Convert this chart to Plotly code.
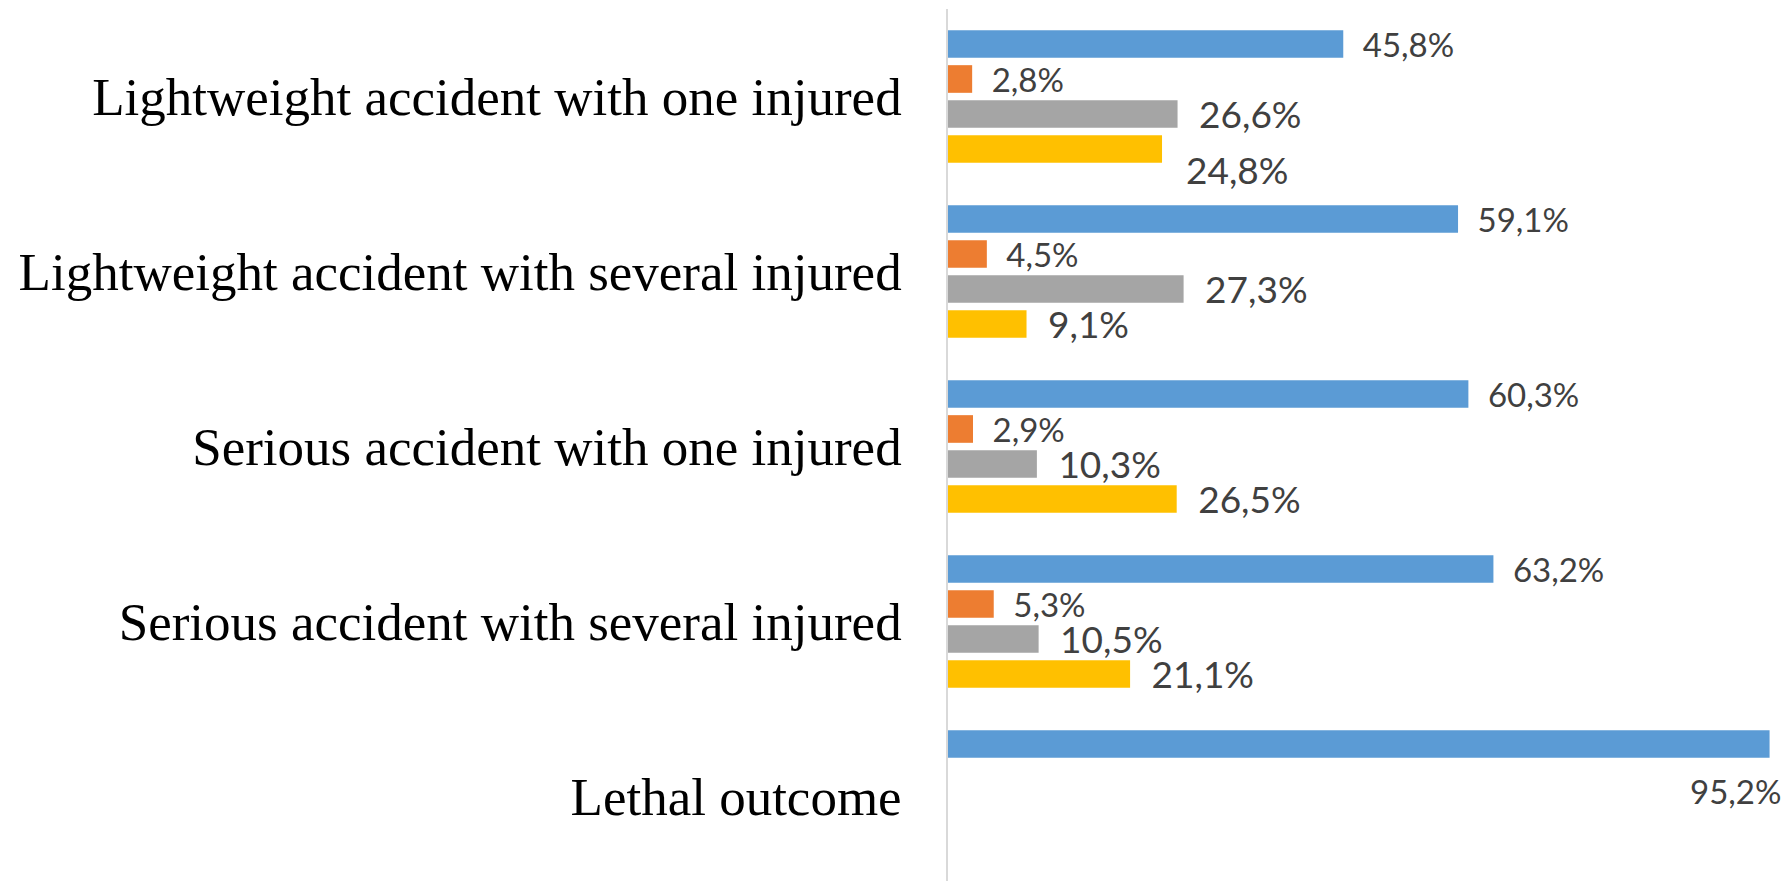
import plotly.graph_objects as go

categories = [
    "Lightweight accident with one injured",
    "Lightweight accident with several injured",
    "Serious accident with one injured",
    "Serious accident with several injured",
    "Lethal outcome",
]
series_names = ["Series 1", "Series 2", "Series 3", "Series 4"]
s1 = [45.8, 59.1, 60.3, 63.2, 95.2]
s2 = [2.8, 4.5, 2.9, 5.3, None]
s3 = [26.6, 27.3, 10.3, 10.5, None]
s4 = [24.8, 9.1, 26.5, 21.1, None]
colors = ["#5B9BD5", "#ED7D31", "#A5A5A5", "#FFC000"]
label_sizes = [33, 33, 37, 37]

series = [s1, s2, s3, s4]


def fmt(v):
    return f"{v:.1f}".replace(".", ",") + "%"


fig = go.Figure()
# labels placed separately (Excel moved them): (series index, category index)
special = {(0, 4), (3, 0)}
for si, (name, vals, col, fs) in enumerate(zip(series_names, series, colors, label_sizes)):
    texts = []
    for ci, v in enumerate(vals):
        if v is None or (si, ci) in special:
            texts.append("")
        else:
            texts.append("\u2002" + fmt(v))
    fig.add_trace(go.Bar(
        name=name, y=categories, x=vals, orientation="h",
        marker=dict(color=col, line=dict(width=0)),
        text=texts, textposition="outside", constraintext="none",
        cliponaxis=False,
        textfont=dict(family="Lato, sans-serif", size=fs, color="#404040"),
        hoverinfo="skip",
    ))

# Lethal outcome label below its bar, right-aligned
fig.add_annotation(
    x=s1[4], y=categories[4], text=fmt(s1[4]), showarrow=False,
    xanchor="right", yanchor="middle", xshift=13, yshift=5,
    font=dict(family="Lato, sans-serif", size=33, color="#404040"),
)
# first group's fourth-series label, shifted down
fig.add_annotation(
    x=s4[0], y=categories[0], text=fmt(s4[0]), showarrow=False,
    xanchor="left", yanchor="middle", xshift=22, yshift=-72.5,
    font=dict(family="Lato, sans-serif", size=37, color="#404040"),
)

fig.update_layout(
    width=1781, height=873,
    margin=dict(l=940, r=0, t=1, b=0, pad=0),
    paper_bgcolor="white", plot_bgcolor="white",
    barmode="group", bargap=0.2, bargroupgap=0.21,
    showlegend=False,
    xaxis=dict(range=[0, 97.45], showgrid=False, zeroline=False,
               showticklabels=False, ticks="", showline=False, fixedrange=True),
    yaxis=dict(type="category", categoryorder="array", categoryarray=categories,
               range=[4.483, -0.5], showgrid=False, zeroline=False,
               showline=True, linecolor="#D9D9D9", linewidth=1.5,
               ticks="", ticklabelstandoff=34,
               tickfont=dict(family="Liberation Serif, Times New Roman, serif",
                             size=53, color="black")),
)

fig.write_html("out.html")
